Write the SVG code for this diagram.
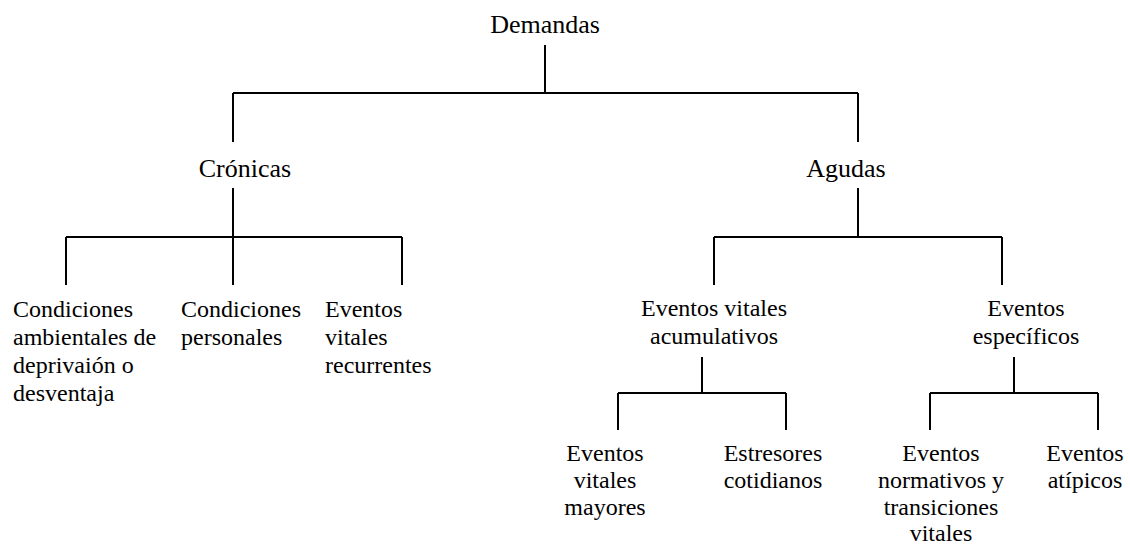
<svg xmlns="http://www.w3.org/2000/svg" width="1130" height="544" viewBox="0 0 1130 544">
<style>
text{font-family:"Liberation Serif","Times New Roman",serif;fill:#000}
.t{font-size:26px}
.l{font-size:24px}
.c{text-anchor:middle}
#connectors path{fill:none;stroke:#000;stroke-width:2}
</style>
<rect width="1130" height="544" fill="#fff"/>
<g id="connectors">
<path d="M545 45V93M233 93H858M233 93V142M858 93V142"/>
<path d="M233 188V237M66 237H402M66 237V285M233 237V285M402 237V285"/>
<path d="M858 188V237M714 237H1002M714 237V285M1002 237V285"/>
<path d="M702 357V393M618 393H786M618 393V430M786 393V430"/>
<path d="M1014 357V393M930 393H1098M930 393V430M1098 393V430"/>
</g>
<g id="n-demandas"><text class="t c" x="545" y="33">Demandas</text></g>
<g id="n-cronicas"><text class="t c" x="245" y="177">Crónicas</text></g>
<g id="n-agudas"><text class="t c" x="846" y="177">Agudas</text></g>
<g id="n-ambientales"><text class="l" x="13" y="317"><tspan x="13">Condiciones</tspan><tspan x="13" dy="28">ambientales de</tspan><tspan x="13" dy="28">deprivaión o</tspan><tspan x="13" dy="28">desventaja</tspan></text></g>
<g id="n-personales"><text class="l" x="181" y="317"><tspan x="181">Condiciones</tspan><tspan x="181" dy="28">personales</tspan></text></g>
<g id="n-recurrentes"><text class="l" x="325" y="317"><tspan x="325">Eventos</tspan><tspan x="325" dy="28">vitales</tspan><tspan x="325" dy="28">recurrentes</tspan></text></g>
<g id="n-acumulativos"><text class="l c" x="714" y="316"><tspan x="714">Eventos vitales</tspan><tspan x="714" dy="28">acumulativos</tspan></text></g>
<g id="n-especificos"><text class="l c" x="1026" y="316"><tspan x="1026">Eventos</tspan><tspan x="1026" dy="28">específicos</tspan></text></g>
<g id="n-mayores"><text class="l c" x="605" y="461"><tspan x="605">Eventos</tspan><tspan x="605" dy="27">vitales</tspan><tspan x="605" dy="27">mayores</tspan></text></g>
<g id="n-cotidianos"><text class="l c" x="773" y="461"><tspan x="773">Estresores</tspan><tspan x="773" dy="27">cotidianos</tspan></text></g>
<g id="n-normativos"><text class="l c" x="941" y="461"><tspan x="941">Eventos</tspan><tspan x="941" dy="27">normativos y</tspan><tspan x="941" dy="27">transiciones</tspan><tspan x="941" dy="26">vitales</tspan></text></g>
<g id="n-atipicos"><text class="l c" x="1085" y="461"><tspan x="1085">Eventos</tspan><tspan x="1085" dy="27">atípicos</tspan></text></g>
</svg>
